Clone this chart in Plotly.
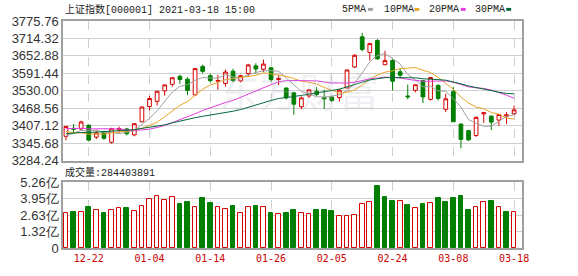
import plotly.graph_objects as go

# ---------------- data ----------------
dates = ["12-17", "12-18", "12-21", "12-22", "12-23", "12-24", "12-25", "12-28", "12-29", "12-30",
         "12-31", "01-04", "01-05", "01-06", "01-07", "01-08", "01-11", "01-12", "01-13", "01-14",
         "01-15", "01-18", "01-19", "01-20", "01-21", "01-22", "01-25", "01-26", "01-27", "01-28",
         "01-29", "02-01", "02-02", "02-03", "02-04", "02-05", "02-08", "02-09", "02-10", "02-18",
         "02-19", "02-22", "02-23", "02-24", "02-25", "02-26", "03-01", "03-02", "03-03", "03-04",
         "03-05", "03-08", "03-09", "03-10", "03-11", "03-12", "03-15", "03-16", "03-17", "03-18"]

open_ = [3370, 3398, 3396, 3409, 3367, 3386, 3349, 3393, 3396, 3375,
         3421, 3475, 3493, 3530, 3553, 3581, 3571, 3516, 3616, 3583,
         3564, 3556, 3599, 3565, 3591, 3618, 3606, 3611, 3570, 3540,
         3523, 3474, 3512, 3529, 3507, 3508, 3506, 3540, 3614, 3720,
         3665, 3707, 3622, 3637, 3597, 3512, 3532, 3566, 3500, 3549,
         3465, 3527, 3413, 3390, 3373, 3449, 3441, 3427, 3441, 3449]
high = [3406, 3413, 3425, 3412, 3390, 3390, 3400, 3404, 3400, 3416,
        3474, 3512, 3529, 3552, 3577, 3587, 3578, 3609, 3622, 3590,
        3586, 3605, 3608, 3587, 3625, 3627, 3640, 3615, 3584, 3541,
        3525, 3510, 3535, 3543, 3534, 3512, 3537, 3604, 3659, 3734,
        3699, 3712, 3671, 3641, 3608, 3552, 3552, 3568, 3579, 3553,
        3520, 3544, 3415, 3393, 3440, 3456, 3443, 3447, 3455, 3478]
low = [3356, 3381, 3393, 3352, 3360, 3358, 3344, 3383, 3373, 3370,
       3420, 3461, 3478, 3513, 3545, 3555, 3515, 3513, 3591, 3560,
       3534, 3545, 3560, 3560, 3580, 3590, 3596, 3563, 3550, 3500,
       3446, 3465, 3505, 3512, 3466, 3490, 3492, 3540, 3610, 3669,
       3637, 3640, 3620, 3531, 3574, 3500, 3525, 3487, 3496, 3496,
       3455, 3420, 3328, 3353, 3368, 3417, 3392, 3407, 3414, 3445]
close = [3404.87, 3394.90, 3420.57, 3356.78, 3382.32, 3363.11, 3396.56, 3397.29, 3379.04, 3414.45,
         3473.07, 3502.96, 3528.68, 3550.88, 3576.20, 3570.11, 3531.50, 3608.34, 3598.65, 3565.90,
         3566.38, 3596.22, 3566.20, 3583.09, 3621.26, 3606.75, 3624.24, 3569.43, 3573.34, 3505.18,
         3483.07, 3505.28, 3533.68, 3517.31, 3501.86, 3496.33, 3532.44, 3603.49, 3655.09, 3675.36,
         3696.17, 3642.44, 3636.36, 3564.08, 3585.05, 3509.08, 3551.40, 3508.59, 3576.90, 3503.49,
         3501.99, 3421.41, 3359.29, 3357.74, 3436.83, 3453.08, 3419.95, 3446.73, 3445.55, 3463.07]

# closes of the 29 sessions before the first shown day (needed for the moving averages)
history_close = [3312.16, 3373.73, 3360.15, 3342.20, 3338.68, 3310.10, 3346.97, 3339.90, 3347.30, 3363.09,
                 3377.73, 3414.49, 3402.82, 3362.33, 3369.73, 3408.31, 3391.76, 3451.94, 3449.38, 3442.14,
                 3444.58, 3416.60, 3410.18, 3371.96, 3373.28, 3347.19, 3369.12, 3367.23, 3366.98]

volume_yi = [2.76, 2.84, 2.84, 3.25, 2.99, 2.76, 2.99, 3.22, 3.17, 2.91,
             3.38, 3.87, 4.15, 3.79, 4.07, 3.48, 3.69, 3.30, 3.95, 3.56,
             3.30, 3.09, 3.33, 2.76, 3.30, 3.33, 3.30, 2.76, 2.71, 2.78,
             3.02, 2.76, 2.71, 3.02, 3.02, 2.94, 2.55, 2.55, 2.63, 3.48,
             3.69, 4.95, 4.10, 3.71, 3.71, 3.40, 3.17, 3.48, 3.56, 4.02,
             3.64, 3.95, 4.18, 3.02, 3.25, 3.64, 3.71, 3.25, 2.86, 2.84403891]

price_ticks = [3284.24, 3345.68, 3407.12, 3468.56, 3530.00, 3591.44, 3652.88, 3714.32, 3775.76]
vol_ticks = [0, 1.315e8, 2.63e8, 3.945e8, 5.26e8]
vol_ticktext = ["0", "1.32亿", "2.63亿", "3.95亿", "5.26亿"]
date_tick_idx = [3, 11, 19, 27, 35, 43, 51, 59]
ma_periods = [5, 10, 20, 30]
ma_names = ["5PMA", "10PMA", "20PMA", "30PMA"]
title_text = "上证指数[000001] 2021-03-18 15:00"
vol_title = "成交量:284403891"

# ---------------- styles ----------------
RED = "#d60000"
GREEN = "#007f00"
ma_colors = ["#a0a0a0", "#e8a626", "#e03ce0", "#006a3a"]
GRID = "#cfcfcf"
BORDER = "#a0a0a0"

W, H = 578, 276
L, R, T, B = 57, 56, 21, 21
PH = H - T - B
PW = W - L - R


def px_x(px):
    return (px - L) / PW


def px_y(py):
    return (H - B - py) / PH


idx = list(range(len(dates)))
all_close = history_close + close
n_hist = len(history_close)

fig = go.Figure()

fig.add_trace(go.Candlestick(
    x=idx, open=open_, high=high, low=low, close=close,
    increasing=dict(line=dict(color=RED, width=1), fillcolor="white"),
    decreasing=dict(line=dict(color=GREEN, width=1), fillcolor=GREEN),
    whiskerwidth=0, showlegend=False, xaxis="x", yaxis="y", hoverinfo="skip"))

for p, name, col in zip(ma_periods, ma_names, ma_colors):
    ma = []
    for i in range(len(close)):
        j = n_hist + i
        window = all_close[j - p + 1:j + 1]
        ma.append(sum(window) / len(window))
    fig.add_trace(go.Scatter(x=idx, y=ma, mode="lines", line=dict(color=col, width=1),
                             name=name, showlegend=False, xaxis="x", yaxis="y", hoverinfo="skip"))

prev_close = [history_close[-1]] + close[:-1]
vol = [v * 1e8 for v in volume_yi]
up = [c >= pc for c, pc in zip(close, prev_close)]
fig.add_trace(go.Bar(
    x=idx, y=vol, width=0.62,
    marker=dict(color=["white" if u else GREEN for u in up],
                line=dict(color=[RED if u else GREEN for u in up], width=1)),
    showlegend=False, xaxis="x2", yaxis="y2", hoverinfo="skip"))

xrange = [-0.39, 60.04]
tick_font_x = dict(family="DejaVu Sans Mono", size=10, color="#cc0000")
tick_font_y = dict(family="Liberation Sans", size=13, color="#333333")

fig.update_layout(
    width=W, height=H, margin=dict(l=L, r=R, t=T, b=B),
    paper_bgcolor="white", plot_bgcolor="white",
    bargap=0,
    xaxis=dict(domain=[0, 1], anchor="y", range=xrange, rangeslider=dict(visible=False),
               tickvals=date_tick_idx, showticklabels=False, showgrid=True, gridcolor=GRID,
               griddash="dash", gridwidth=1, zeroline=False, showline=True, mirror=True,
               linecolor=BORDER, linewidth=1.5, ticks=""),
    yaxis=dict(domain=[px_y(165), 1], anchor="x", range=[price_ticks[0], price_ticks[-1]],
               tickvals=price_ticks, ticktext=["%.2f" % v for v in price_ticks],
               showgrid=True, gridcolor=GRID, gridwidth=1, zeroline=False, showline=True,
               mirror=True, linecolor=BORDER, linewidth=1.5, ticks="", tickfont=tick_font_y),
    xaxis2=dict(domain=[0, 1], anchor="y2", range=xrange, matches="x",
                tickvals=date_tick_idx, ticktext=[dates[i] for i in date_tick_idx],
                showgrid=True, gridcolor=GRID, griddash="dash", gridwidth=1, zeroline=False,
                showline=True, mirror=True, linecolor=BORDER, linewidth=1.5, ticks="",
                tickfont=tick_font_x),
    yaxis2=dict(domain=[0, px_y(187)], anchor="x2", range=[0, vol_ticks[-1]],
                tickvals=vol_ticks, ticktext=vol_ticktext, showgrid=True, gridcolor=GRID,
                gridwidth=1, zeroline=False, showline=True, mirror=True, linecolor=BORDER,
                linewidth=1.5, ticks="", tickfont=tick_font_y),
)

annotations = []
# watermark
annotations.append(dict(text="东方财富", x=px_x(296), y=px_y(92), xref="paper", yref="paper",
                        xanchor="center", yanchor="middle", showarrow=False,
                        font=dict(family="Noto Sans CJK SC", size=40,
                                  color="rgba(170,175,195,0.2)")))
# title
annotations.append(dict(text=title_text, x=px_x(57), y=px_y(9), xref="paper", yref="paper",
                        xanchor="left", yanchor="middle", showarrow=False,
                        font=dict(family="Liberation Mono, Noto Sans CJK SC", size=10, color="#222222")))
# volume title
annotations.append(dict(text=vol_title, x=px_x(57), y=px_y(177), xref="paper", yref="paper",
                        xanchor="left", yanchor="middle", showarrow=False,
                        font=dict(family="Liberation Mono, Noto Sans CJK SC", size=10, color="#222222")))
# MA legend
legend_text_x = [338, 380, 426, 472]
legend_sw_x = [366, 413, 460, 506]
shapes = []
for name, col, tx, sx in zip(ma_names, ma_colors, legend_text_x, legend_sw_x):
    annotations.append(dict(text=name, x=px_x(tx), y=px_y(9), xref="paper", yref="paper",
                            xanchor="left", yanchor="middle", showarrow=False,
                            font=dict(family="Liberation Mono", size=10, color="#222222")))
    shapes.append(dict(type="rect", xref="paper", yref="paper",
                       x0=px_x(sx), x1=px_x(sx + 5), y0=px_y(10.5), y1=px_y(7.5),
                       fillcolor=col, line=dict(width=0)))

fig.update_layout(annotations=annotations, shapes=shapes)

fig.write_html("out.html")
